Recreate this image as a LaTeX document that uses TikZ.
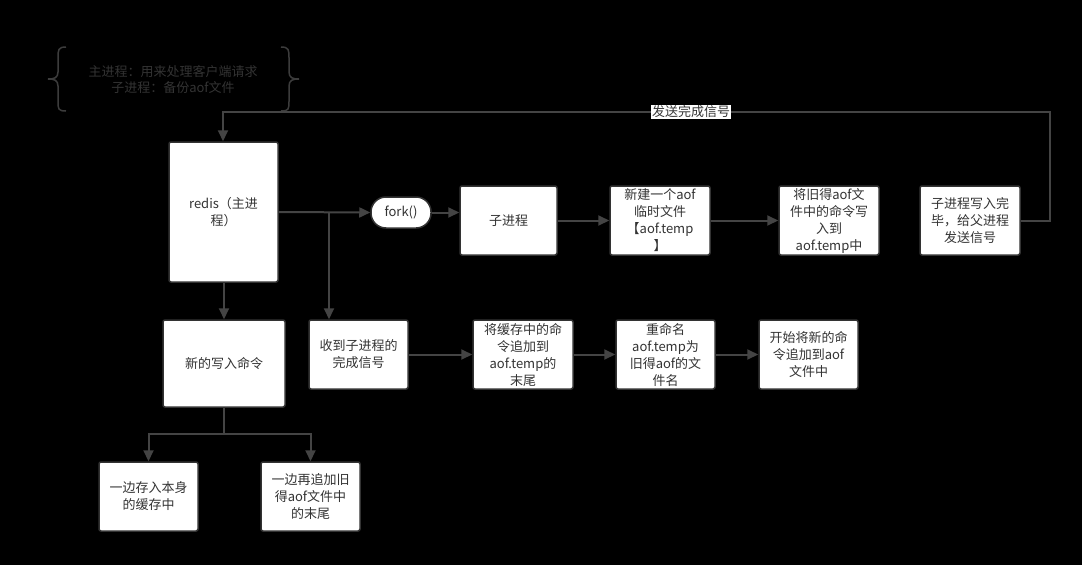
\documentclass[tikz,border=0pt]{standalone}
\usepackage{fontspec}
\setmainfont{Noto Sans CJK SC}
\usetikzlibrary{arrows.meta}
\definecolor{ln}{HTML}{444444}
\definecolor{bd}{HTML}{333333}
\definecolor{tx}{HTML}{333333}
\definecolor{brc}{HTML}{3C3C3C}
\begin{document}
\begin{tikzpicture}[x=1pt,y=-1pt,
  box/.style={draw=bd, line width=1.5pt, fill=white, rounded corners=2pt, inner sep=0pt, align=center, text=tx, font=\fontsize{13}{17}\selectfont},
  pill/.style={box, rounded corners=15pt},
  conn/.style={draw=ln, line width=2pt},
  arr/.style={conn, -{Triangle[length=11pt,width=10pt]}},
  lbl/.style={fill=white, inner sep=1pt, text=tx, font=\fontsize{13}{17}\selectfont},
  note/.style={text=tx, align=center, font=\fontsize{13}{16}\selectfont},
  brace/.style={draw=brc, line width=1.5pt}]
\fill[black] (0,0) rectangle (1082,565);
\useasboundingbox (0,0) rectangle (1082,565);

% braces and note
\draw[brace] (66,47) .. controls (58,47) and (58,50) .. (58,58) -- (58,72)
  .. controls (58,78) and (54,79) .. (48,79) .. controls (54,79) and (58,80) .. (58,86)
  -- (58,101) .. controls (58,109) and (58,111) .. (66,111);
\draw[brace] (281,47) .. controls (289,47) and (289,50) .. (289,58) -- (289,72)
  .. controls (289,78) and (293,79) .. (299,79) .. controls (293,79) and (289,80) .. (289,86)
  -- (289,101) .. controls (289,109) and (289,111) .. (281,111);
\node[note] (nt) at (173,80) {主进程：用来处理客户端请求\\子进程：备份aof文件};

% top row
\node[box, minimum width=109pt, minimum height=140pt] (redis) at (223.5,212) {redis（主进\\程）};
\node[pill, minimum width=60pt, minimum height=31pt] (fork) at (401,212.5) {fork()};
\node[box, minimum width=97pt, minimum height=69pt] (child) at (508.5,220.5) {子进程};
\node[box, minimum width=100pt, minimum height=69pt] (newaof) at (660,220.5) {新建一个aof\\临时文件\\【aof.temp\\】};
\node[box, minimum width=100pt, minimum height=69pt] (oldaof) at (829,220.5) {将旧得aof文\\件中的命令写\\入到\\aof.temp中};
\node[box, minimum width=100pt, minimum height=69pt] (done) at (970,220.5) {子进程写入完\\毕，给父进程\\发送信号};

% middle row
\node[box, minimum width=122pt, minimum height=87pt] (newcmd) at (224,363.5) {新的写入命令};
\node[box, minimum width=99pt, minimum height=69pt] (recv) at (358.5,354.5) {收到子进程的\\完成信号};
\node[box, minimum width=100pt, minimum height=69pt] (append) at (523,354.5) {将缓存中的命\\令追加到\\aof.temp的\\末尾};
\node[box, minimum width=99pt, minimum height=69pt] (rename) at (665.5,354.5) {重命名\\aof.temp为\\旧得aof的文\\件名};
\node[box, minimum width=99pt, minimum height=69pt] (start) at (808.5,354.5) {开始将新的命\\令追加到aof\\文件中};

% bottom row
\node[box, minimum width=99pt, minimum height=69pt] (cache) at (148.5,496.5) {一边存入本身\\的缓存中};
\node[box, minimum width=99pt, minimum height=69pt] (tail) at (310.5,496.5) {一边再追加旧\\得aof文件中\\的末尾};

% connectors
\coordinate (br) at (329,212);
\draw[arr] (redis.east) -- (fork.west);
\draw[arr] (br) -- (br |- recv.north);
\draw[arr] (fork.east) -- (fork.east -| child.west);
\draw[arr] (child.east) -- (newaof.west);
\draw[arr] (newaof.east) -- (oldaof.west);

\coordinate (c1) at (1050,220.5);
\coordinate (c2) at (1050,112);
\coordinate (c3) at (223,112);
\draw[arr] (done.east) -- (c1) -- (c2) -- node[lbl, pos=0.434] (sig) {发送完成信号} (c3) -- (c3 |- redis.north);

\draw[arr] (redis.south -| newcmd.north) -- (newcmd.north);
\draw[arr] (recv.east) -- (append.west);
\draw[arr] (append.east) -- (rename.west);
\draw[arr] (rename.east) -- (start.west);

\coordinate (sp) at (224,434);
\draw[conn] (newcmd.south) -- (sp);
\draw[arr] (sp) -| (cache.north);
\draw[arr] (sp) -| (tail.north);
\end{tikzpicture}
\end{document}
